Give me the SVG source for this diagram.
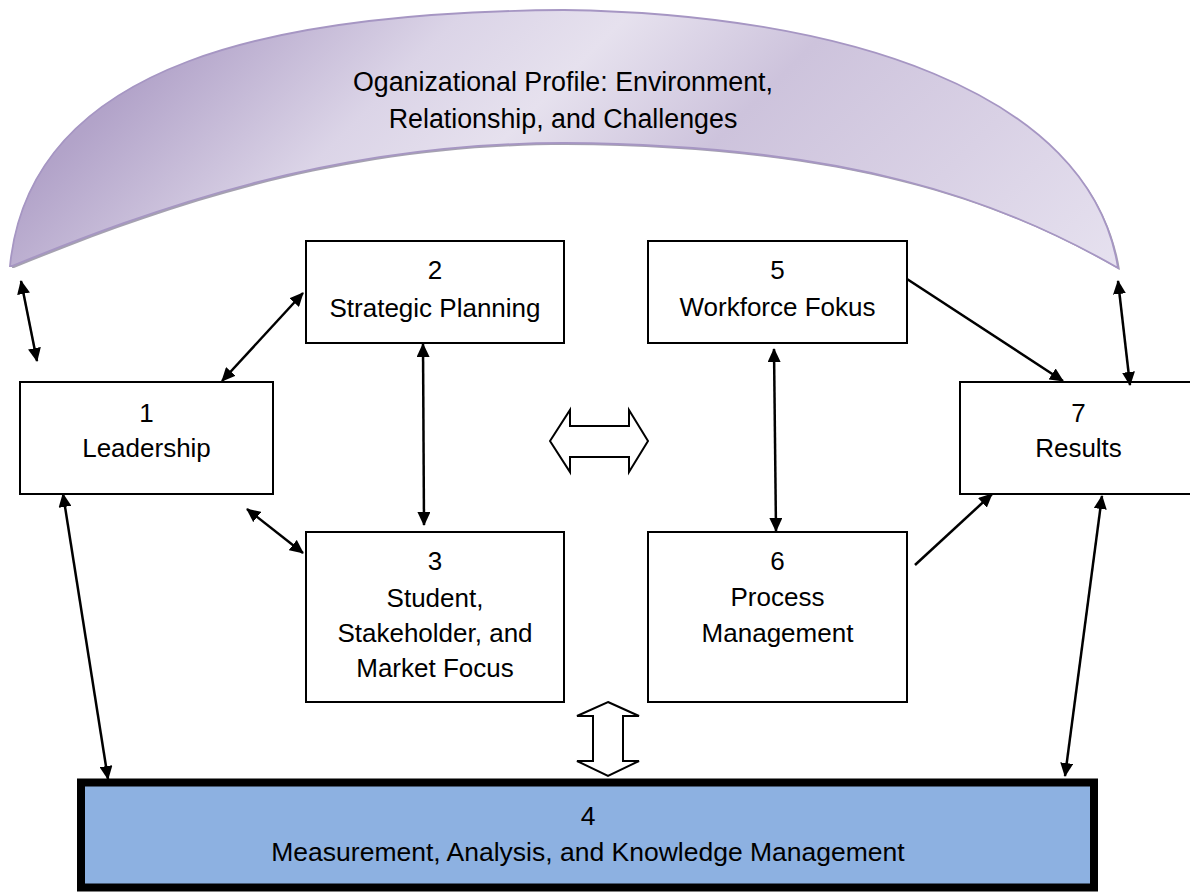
<svg xmlns="http://www.w3.org/2000/svg" width="1190" height="894" viewBox="0 0 1190 894">
  <style>
    text { font-family: "Liberation Sans", Arial, sans-serif; font-size: 26px; fill: #000; text-anchor: middle; }
    .title { font-size: 26.8px; }
    .wide { font-size: 26.5px; }
    .box { fill: #fff; stroke: #000; stroke-width: 2; }
    .conn { fill: none; stroke: #000; stroke-width: 2.5; }
    .block { fill: #fff; stroke: #000; stroke-width: 2; stroke-linejoin: miter; }
  </style>
  <defs>
    <linearGradient id="arcFill" gradientUnits="userSpaceOnUse" x1="0" y1="0" x2="1190" y2="1190">
      <stop offset="0.09" stop-color="#b2a3c9"/>
      <stop offset="0.20" stop-color="#dbd4e7"/>
      <stop offset="0.27" stop-color="#e6e1ee"/>
      <stop offset="0.36" stop-color="#cdc3dc"/>
      <stop offset="0.47" stop-color="#d9d1e5"/>
      <stop offset="0.58" stop-color="#e6e1ef"/>
    </linearGradient>
    <marker id="ah" viewBox="0 0 14 13" refX="13" refY="6.5" markerWidth="14" markerHeight="13" markerUnits="userSpaceOnUse" orient="auto-start-reverse">
      <path d="M0,0 L14,6.5 L0,13 Z" fill="#000"/>
    </marker>
  </defs>

  <!-- curved banner across the top -->
  <g id="profile">
    <path d="M12,268 C32,62 282,14 566,12 C842,16 1092,92 1120,270 C1002,202 852,147 566,145 C332,145 152,212 14,268 Z" fill="#8f8a9c" opacity="0.8"/>
    <path d="M10,266 C30,60 280,12 564,10 C840,14 1090,90 1118,268 C1000,200 850,145 564,143 C330,143 150,210 12,266 Z" fill="url(#arcFill)" stroke="#a696c3" stroke-width="1.8"/>
    <text class="title" x="563" y="91">Oganizational Profile: Environment,</text>
    <text class="title" x="563" y="128">Relationship, and Challenges</text>
  </g>

  <g id="n1">
    <rect class="box" x="20" y="382" width="253" height="112"/>
    <text x="146.5" y="422">1</text>
    <text x="146.5" y="457">Leadership</text>
  </g>

  <g id="n2">
    <rect class="box" x="306" y="241" width="258" height="102"/>
    <text x="435" y="279">2</text>
    <text x="435" y="317">Strategic Planning</text>
  </g>

  <g id="n3">
    <rect class="box" x="306" y="532" width="258" height="170"/>
    <text x="435" y="570">3</text>
    <text x="435" y="607">Student,</text>
    <text x="435" y="642">Stakeholder, and</text>
    <text x="435" y="677">Market Focus</text>
  </g>

  <g id="n5">
    <rect class="box" x="648" y="241" width="259" height="102"/>
    <text x="777.5" y="279">5</text>
    <text x="777.5" y="316">Workforce Fokus</text>
  </g>

  <g id="n6">
    <rect class="box" x="648" y="532" width="259" height="170"/>
    <text x="777.5" y="570">6</text>
    <text x="777.5" y="606">Process</text>
    <text x="777.5" y="642">Management</text>
  </g>

  <g id="n7">
    <rect class="box" x="960" y="382" width="237" height="112"/>
    <text x="1078.5" y="422">7</text>
    <text x="1078.5" y="457">Results</text>
  </g>

  <g id="n4">
    <rect x="84" y="785.5" width="1013" height="105" fill="#9fb2c0"/>
    <rect x="81" y="782.5" width="1013" height="105" fill="#8db1e1" stroke="#000" stroke-width="8"/>
    <text class="wide" x="588" y="825">4</text>
    <text class="wide" x="588" y="861">Measurement, Analysis, and Knowledge Management</text>
  </g>

  <g id="connectors">
    <line class="conn" x1="21" y1="281" x2="37" y2="361" marker-start="url(#ah)" marker-end="url(#ah)"/>
    <line class="conn" x1="303" y1="293" x2="222" y2="381" marker-start="url(#ah)" marker-end="url(#ah)"/>
    <line class="conn" x1="423" y1="344" x2="424" y2="525" marker-start="url(#ah)" marker-end="url(#ah)"/>
    <line class="conn" x1="247" y1="509" x2="303" y2="553" marker-start="url(#ah)" marker-end="url(#ah)"/>
    <line class="conn" x1="774" y1="349" x2="776" y2="531" marker-start="url(#ah)" marker-end="url(#ah)"/>
    <line class="conn" x1="907" y1="279" x2="1063" y2="381" marker-end="url(#ah)"/>
    <line class="conn" x1="915" y1="565" x2="992" y2="494" marker-end="url(#ah)"/>
    <line class="conn" x1="1118" y1="281" x2="1130" y2="385" marker-start="url(#ah)" marker-end="url(#ah)"/>
    <line class="conn" x1="63" y1="494" x2="108" y2="779" marker-start="url(#ah)" marker-end="url(#ah)"/>
    <line class="conn" x1="1102" y1="496" x2="1065" y2="776" marker-start="url(#ah)" marker-end="url(#ah)"/>

    <!-- hollow two-way block arrows -->
    <polygon class="block" points="550,441 570,410 570,426 629,426 629,410 648,441 629,472 629,457 570,457 570,472"/>
    <polygon class="block" points="608,702 639,716 623,716 623,761 639,761 608,776 577,761 593,761 593,716 577,716"/>
  </g>
</svg>
